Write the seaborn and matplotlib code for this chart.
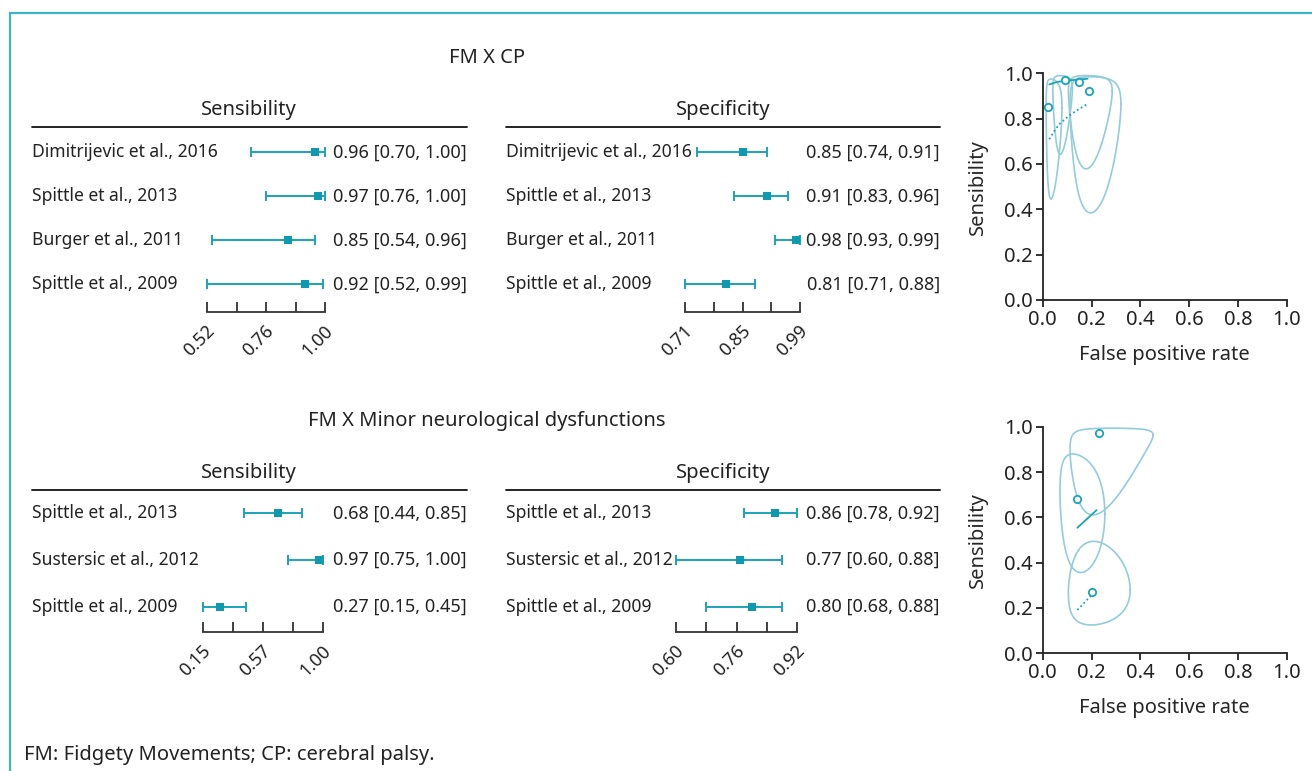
import numpy as np
import matplotlib
matplotlib.use("Agg")
import matplotlib.pyplot as plt
import matplotlib.transforms as mtransforms
from matplotlib.lines import Line2D
import seaborn as sns

# FM x CP
cp_studies = ["Dimitrijevic et al., 2016", "Spittle et al., 2013", "Burger et al., 2011", "Spittle et al., 2009"]
cp_sens = [0.96, 0.97, 0.85, 0.92]
cp_sens_lo = [0.70, 0.76, 0.54, 0.52]
cp_sens_hi = [1.00, 1.00, 0.96, 0.99]
cp_spec = [0.85, 0.91, 0.98, 0.81]
cp_spec_lo = [0.74, 0.83, 0.93, 0.71]
cp_spec_hi = [0.91, 0.96, 0.99, 0.88]

# FM x minor neurological dysfunctions
mnd_studies = ["Spittle et al., 2013", "Sustersic et al., 2012", "Spittle et al., 2009"]
mnd_sens = [0.68, 0.97, 0.27]
mnd_sens_lo = [0.44, 0.75, 0.15]
mnd_sens_hi = [0.85, 1.00, 0.45]
mnd_spec = [0.86, 0.77, 0.80]
mnd_spec_lo = [0.78, 0.60, 0.68]
mnd_spec_hi = [0.92, 0.88, 0.88]

# forest axis ticks
cp_sens_ticks = [0.52, 0.64, 0.76, 0.88, 1.00]
cp_sens_labels = ["0.52", "", "0.76", "", "1.00"]
cp_spec_ticks = [0.71, 0.78, 0.85, 0.92, 0.99]
cp_spec_labels = ["0.71", "", "0.85", "", "0.99"]
mnd_sens_ticks = [0.15, 0.3625, 0.575, 0.7875, 1.00]
mnd_sens_labels = ["0.15", "", "0.57", "", "1.00"]
mnd_spec_ticks = [0.60, 0.68, 0.76, 0.84, 0.92]
mnd_spec_labels = ["0.60", "", "0.76", "", "0.92"]

# summary curves (false positive rate, sensitivity)
cp_sroc_fpr = [0.027, 0.06, 0.10, 0.14, 0.184]
cp_sroc_sens = [0.951, 0.962, 0.968, 0.972, 0.976]
cp_pred_fpr = [0.027, 0.05, 0.071, 0.112, 0.15, 0.184]
cp_pred_sens = [0.709, 0.75, 0.779, 0.816, 0.843, 0.865]
mnd_sroc_fpr = [0.142, 0.221]
mnd_sroc_sens = [0.554, 0.632]
mnd_pred_fpr = [0.142, 0.214]
mnd_pred_sens = [0.191, 0.272]

# confidence regions (centre in probability, radii in logit units, shear)
cp_reg_fpr = [0.178, 0.072, 0.034, 0.196]
cp_reg_sens = [0.921, 0.93, 0.848, 0.864]
cp_reg_rx = [0.61, 0.58, 0.89, 0.66]
cp_reg_ry = [2.14, 2.0, 1.94, 2.32]
cp_reg_k = [0.0, 0.0, 0.0, 0.0]
mnd_reg_fpr = [0.139, 0.244, 0.204]
mnd_reg_sens = [0.668, 0.939, 0.272]
mnd_reg_rx = [0.75, 0.94, 0.78]
mnd_reg_ry = [1.27, 2.22, 0.96]
mnd_reg_k = [-0.23, 0.53, 0.04]

TEAL = "#1ba4b8"
DARK_TEAL = "#0d9aae"
LIGHT_TEAL = "#92cdd9"
TEXT = "#222222"

sns.set_style("white")
plt.rcParams["font.family"] = ["Noto Sans", "DejaVu Sans"]
plt.rcParams["font.size"] = 13
plt.rcParams["text.color"] = TEXT

W, H = 1312, 771
fig = plt.figure(figsize=(W / 100, H / 100), dpi=100)


def fx(px):
    return px / W


def fy(py):
    return 1 - py / H


def logit(p):
    p = np.asarray(p, dtype=float)
    return np.log(p / (1 - p))


def expit(v):
    return 1 / (1 + np.exp(-v))


def forest(studies, est, lo, hi, ticks, labels, header, x0, x1, lab_x, val_x, head_y, line_y, row0, step, axis_y):
    n = len(studies)
    ax = fig.add_axes([fx(x0), fy(axis_y), (x1 - x0) / W, (axis_y - line_y) / H])
    rows = np.arange(n)
    est = np.array(est)
    lo = np.array(lo)
    hi = np.array(hi)
    ax.set_xlim(ticks[0], ticks[-1])
    ax.set_ylim((axis_y - row0) / step, (line_y - row0) / step)
    ax.errorbar(est, rows, xerr=[est - lo, hi - est], fmt="none", ecolor=TEAL,
                elinewidth=1.4, capsize=3.4, capthick=1.4, clip_on=False)
    sns.scatterplot(x=est, y=rows, marker="s", s=40, color=DARK_TEAL, linewidth=0,
                    ax=ax, zorder=3, clip_on=False, legend=False)
    for sp in ["top", "left", "right"]:
        ax.spines[sp].set_visible(False)
    ax.spines["bottom"].set_color("#333333")
    ax.spines["bottom"].set_linewidth(1.3)
    ax.set_yticks([])
    ax.set_xticks(ticks)
    ax.set_xticklabels(labels)
    ax.tick_params(axis="x", bottom=True, direction="in", length=7, width=1.3, color="#333333",
                   pad=12, labelsize=13, labelcolor=TEXT)
    off = mtransforms.ScaledTranslation(5 / 100, 0, fig.dpi_scale_trans)
    for lab in ax.get_xticklabels():
        lab.set_rotation(45)
        lab.set_ha("right")
        lab.set_va("center")
        lab.set_rotation_mode("anchor")
        lab.set_transform(lab.get_transform() + off)
    ax.set_xlabel("")
    ax.set_ylabel("")
    ax.patch.set_alpha(0)

    tr = mtransforms.blended_transform_factory(fig.transFigure, ax.transData)
    for i, name in enumerate(studies):
        ax.text(fx(lab_x), i, name, transform=tr, ha="left", va="center", fontsize=12.6)
        ax.text(fx(val_x), i, f"{est[i]:.2f} [{lo[i]:.2f}, {hi[i]:.2f}]",
                transform=tr, ha="right", va="center", fontsize=13)
    fig.text(fx((lab_x + val_x) / 2), fy(head_y), header, ha="center", va="center", fontsize=14.5)
    fig.add_artist(Line2D([fx(lab_x), fx(val_x)], [fy(line_y), fy(line_y)], color="#111111", lw=1.3))
    return ax


def roc(y_top, y_bot, spec, sens, reg_fpr, reg_sens, reg_rx, reg_ry, reg_k, sroc_x, sroc_y, pred_x, pred_y):
    ax = fig.add_axes([fx(1042.7), fy(y_bot), (1286.7 - 1042.7) / W, (y_bot - y_top) / H])
    t = np.linspace(0, 2 * np.pi, 300)
    for cx, cy, rx, ry, k in zip(reg_fpr, reg_sens, reg_rx, reg_ry, reg_k):
        lx = logit(cx) + rx * np.cos(t)
        ly = logit(cy) + ry * np.sin(t) + k * np.cos(t)
        ax.plot(expit(lx), expit(ly), color=LIGHT_TEAL, lw=1.2, clip_on=False)
    sns.lineplot(x=sroc_x, y=sroc_y, sort=False, estimator=None, color=TEAL, lw=1.3, ax=ax)
    sns.lineplot(x=pred_x, y=pred_y, sort=False, estimator=None, color=TEAL, lw=1.3,
                 linestyle=(0, (1, 1.5)), ax=ax)
    fpr = 1 - np.array(spec)
    sns.scatterplot(x=fpr, y=sens, marker="o", s=28, facecolor="white", edgecolor=TEAL,
                    linewidth=1.3, ax=ax, zorder=4, clip_on=False, legend=False)
    ax.set_xlim(0, 1)
    ax.set_ylim(0, 1)
    ticks = np.round(np.arange(0, 1.01, 0.2), 1)
    ax.set_xticks(ticks)
    ax.set_yticks(ticks)
    ax.set_xticklabels([f"{v:.1f}" for v in ticks])
    ax.set_yticklabels([f"{v:.1f}" for v in ticks])
    for sp in ["top", "right"]:
        ax.spines[sp].set_visible(False)
    for sp in ["left", "bottom"]:
        ax.spines[sp].set_color("#222222")
        ax.spines[sp].set_linewidth(1.3)
    ax.tick_params(bottom=True, left=True, direction="out", length=5, width=1.3, color="#222222",
                   labelsize=14.5, labelcolor=TEXT, pad=2)
    ax.set_xlabel("False positive rate", fontsize=14.5, labelpad=11)
    ax.set_ylabel("Sensibility", fontsize=14.5, labelpad=12)
    ax.patch.set_alpha(0)
    return ax


# top block
fig.text(fx(487), fy(58), "FM X CP", ha="center", va="center", fontsize=14.5)
forest(cp_studies, cp_sens, cp_sens_lo, cp_sens_hi, cp_sens_ticks, cp_sens_labels, "Sensibility",
       207, 325, 32, 466.5, 110, 127.3, 152.3, 44, 311.5)
forest(cp_studies, cp_spec, cp_spec_lo, cp_spec_hi, cp_spec_ticks, cp_spec_labels, "Specificity",
       685, 800, 505.7, 940, 110, 127.3, 152.3, 44, 311.5)
roc(73.3, 300, cp_spec, cp_sens, cp_reg_fpr, cp_reg_sens, cp_reg_rx, cp_reg_ry, cp_reg_k,
    cp_sroc_fpr, cp_sroc_sens, cp_pred_fpr, cp_pred_sens)

# bottom block
fig.text(fx(487), fy(421), "FM X Minor neurological dysfunctions", ha="center", va="center", fontsize=14.5)
forest(mnd_studies, mnd_sens, mnd_sens_lo, mnd_sens_hi, mnd_sens_ticks, mnd_sens_labels, "Sensibility",
       203.3, 323.3, 32, 466.5, 473, 490, 513.3, 46.7, 631.7)
forest(mnd_studies, mnd_spec, mnd_spec_lo, mnd_spec_hi, mnd_spec_ticks, mnd_spec_labels, "Specificity",
       675.7, 797.3, 505.7, 940, 473, 490, 513.3, 46.7, 631.7)
roc(426.7, 653.3, mnd_spec, mnd_sens, mnd_reg_fpr, mnd_reg_sens, mnd_reg_rx, mnd_reg_ry, mnd_reg_k,
    mnd_sroc_fpr, mnd_sroc_sens, mnd_pred_fpr, mnd_pred_sens)

fig.text(fx(24), fy(755), "FM: Fidgety Movements; CP: cerebral palsy.", ha="left", va="center", fontsize=14.5)

# frame around the figure
border = "#3cb3c6"
fig.add_artist(Line2D([fx(9.5), fx(9.5)], [fy(13), 0], color=border, lw=1.6))
fig.add_artist(Line2D([fx(9.5), 1], [fy(13), fy(13)], color=border, lw=1.6))

fig.savefig("out.png", dpi=100)
